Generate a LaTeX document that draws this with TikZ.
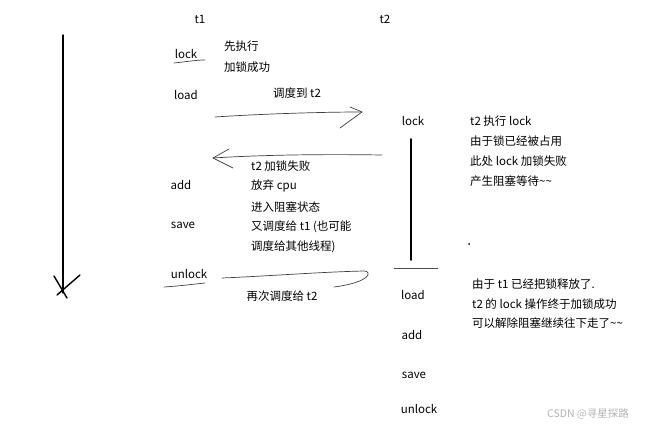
\documentclass[tikz,border=0pt]{standalone}
\usepackage{fontspec}
\setmainfont{Noto Sans CJK SC}
\newcommand{\tld}{\char"7E\relax}
\begin{document}
\begin{tikzpicture}[x=1pt,y=-1pt,
  lbl/.style={font=\fontsize{11.5}{13}\selectfont, inner sep=0pt, anchor=west},
  clbl/.style={font=\fontsize{11.5}{13}\selectfont, inner sep=0pt},
  sketch/.style={draw=black!75, line width=0.7pt, line cap=round, line join=round},
  thick line/.style={draw=black, line width=1.8pt, line cap=round}]
\useasboundingbox (0,0) rectangle (651,430);
% time axis
\coordinate (axtop) at (63,35);
\coordinate (axbot) at (63,293);
\coordinate (h1a) at (54,276);
\coordinate (h1b) at (67,298);
\coordinate (h2a) at (80,275);
\coordinate (h2b) at (57,295);
\draw[thick line, line width=1.4pt] (axtop) -- (axbot);
\draw[thick line, line width=1.4pt] (h1a) -- (h1b);
\draw[thick line, line width=1.4pt] (h2a) -- (h2b);
% t1 column
\node[clbl] (t1) at (200,19) {t1};
\node[clbl] (t2) at (385,19) {t2};
\node[clbl] (lock1) at (186,54) {lock};
\coordinate (u1a) at (174,63);
\coordinate (u1b) at (205,60);
\draw[sketch] (u1a) .. controls (185,62) and (195,60) .. (u1b);
\node[lbl] (n1) at (224,46) {先执行};
\node[lbl] (n2) at (224,67) {加锁成功};
\node[clbl] (load1) at (186,95) {load};
\node[clbl] (sched1) at (297,93) {调度到 t2};
% arrow to t2
\coordinate (a1s) at (215,117);
\coordinate (a1e) at (362,112);
\coordinate (a1u) at (350,107);
\coordinate (a1l) at (340,128);
\draw[sketch] (a1s) .. controls (260,114) and (320,112) .. (a1e);
\draw[sketch] (a1u) -- (a1e) -- (a1l);
% arrow back to t1
\coordinate (a2s) at (382,155);
\coordinate (a2e) at (213,158);
\coordinate (a2u) at (229,149);
\coordinate (a2l) at (233,168);
\draw[sketch] (a2s) .. controls (320,154) and (260,155) .. (a2e);
\draw[sketch] (a2u) -- (a2e) -- (a2l);
\node[lbl] (m1) at (251,166) {t2 加锁失败};
\node[lbl] (m2) at (251,186) {放弃 cpu};
\node[lbl] (m3) at (251,207) {进入阻塞状态};
\node[lbl] (m4) at (251,227) {又调度给 t1 (也可能};
\node[lbl] (m5) at (251,247) {调度给其他线程)};
\node[clbl] (add1) at (181,185) {add};
\node[clbl] (save1) at (183,225) {save};
\node[clbl] (unlock1) at (189,274) {unlock};
\coordinate (u2a) at (164,287);
\coordinate (u2b) at (205,283);
\draw[sketch] (u2a) .. controls (180,286) and (195,284) .. (u2b);
% arrow to t2 again
\coordinate (a3s) at (222,278);
\coordinate (a3m) at (364,271);
\coordinate (a3e) at (334,287);
\draw[sketch] (a3s) .. controls (270,276) and (320,272) .. (a3m) .. controls (372,271) and (372,282) .. (a3e);
\node[clbl] (sched2) at (282,296) {再次调度给 t2};
% t2 column
\node[clbl] (lock2) at (413,121) {lock};
\coordinate (vt) at (411,139);
\coordinate (vb) at (411,260);
\draw[thick line] (vt) -- (vb);
\coordinate (hl) at (394,268);
\coordinate (hr) at (438,268);
\draw[draw=black!70, line width=0.7pt] (hl) -- (hr);
\node[lbl] (r1) at (470,121) {t2 执行 lock};
\node[lbl] (r2) at (470,141) {由于锁已经被占用};
\node[lbl] (r3) at (470,161) {此处 lock 加锁失败};
\node[lbl] (r4) at (470,181) {产生阻塞等待\tld\tld};
\node[circle, fill=black, inner sep=0pt, minimum size=2pt] (dot) at (469,244) {};
\node[lbl] (s1) at (472,284) {由于 t1 已经把锁释放了.};
\node[lbl] (s2) at (472,304) {t2 的 lock 操作终于加锁成功};
\node[lbl] (s3) at (472,323) {可以解除阻塞继续往下走了\tld\tld};
\node[clbl] (load2) at (413,295) {load};
\node[clbl] (add2) at (412,335) {add};
\node[clbl] (save2) at (414,375) {save};
\node[clbl] (unlock2) at (419,409) {unlock};
\node[clbl, text=black!30, font=\fontsize{10.5}{12}\selectfont] (wm) at (588,414) {CSDN @寻星探路};
\end{tikzpicture}
\end{document}
